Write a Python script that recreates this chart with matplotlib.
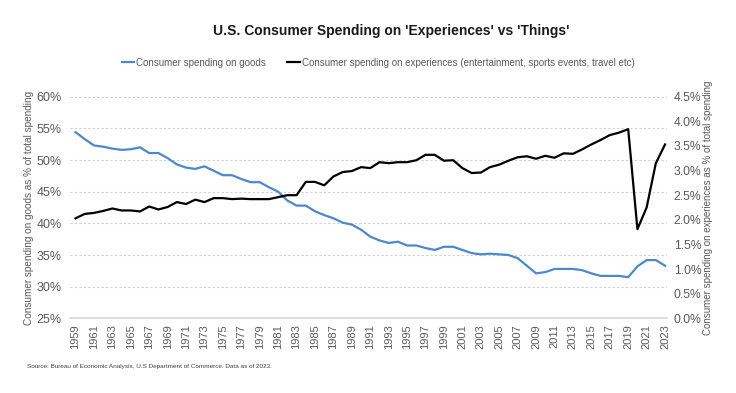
import numpy as np
import matplotlib
matplotlib.use("Agg")
import matplotlib.pyplot as plt
from matplotlib.ticker import FuncFormatter

plt.rcParams['font.family'] = ['Liberation Sans', 'DejaVu Sans']

# 年份
years = list(range(1959, 2024))

# 商品消费占比 (%)，左轴
goods = [54.4, 53.3, 52.3, 52.1, 51.8, 51.6, 51.7, 52.0, 51.1, 51.1,
         50.3, 49.3, 48.8, 48.6, 49.0, 48.3, 47.6, 47.6, 47.0, 46.5,
         46.5, 45.7, 45.0, 43.6, 42.8, 42.8, 41.9, 41.3, 40.8, 40.1,
         39.8, 39.0, 37.9, 37.3, 36.9, 37.1, 36.5, 36.5, 36.1, 35.8,
         36.3, 36.3, 35.8, 35.3, 35.1, 35.2, 35.1, 35.0, 34.5, 33.3,
         32.1, 32.3, 32.8, 32.8, 32.8, 32.6, 32.1, 31.7, 31.7, 31.7,
         31.5, 33.2, 34.2, 34.2, 33.3]

# 体验消费占比 (%)，右轴
experiences = [2.03, 2.12, 2.14, 2.18, 2.23, 2.19, 2.19, 2.17, 2.27, 2.21,
               2.26, 2.36, 2.32, 2.41, 2.36, 2.44, 2.44, 2.42, 2.43, 2.42,
               2.42, 2.42, 2.46, 2.50, 2.50, 2.77, 2.77, 2.70, 2.88, 2.97,
               2.99, 3.07, 3.05, 3.17, 3.15, 3.17, 3.17, 3.21, 3.32, 3.32,
               3.20, 3.21, 3.05, 2.95, 2.96, 3.07, 3.12, 3.20, 3.27, 3.29,
               3.24, 3.30, 3.26, 3.35, 3.34, 3.43, 3.53, 3.62, 3.72, 3.77,
               3.84, 1.81, 2.25, 3.15, 3.53]

tick_years = years[::2]
left_ticks = [25, 30, 35, 40, 45, 50, 55, 60]
right_ticks = [0.0, 0.5, 1.0, 1.5, 2.0, 2.5, 3.0, 3.5, 4.0, 4.5]

blue = '#4a89d0'
gray_txt = '#595959'

fig = plt.figure(figsize=(7.36, 3.93), dpi=100)
ax = fig.add_axes([0.0951, 0.190, 0.811, 0.564])
ax2 = ax.twinx()

l1, = ax.plot(years, goods, color=blue, lw=1.6, label='Consumer spending on goods')
l2, = ax2.plot(years, experiences, color='black', lw=1.6,
               label='Consumer spending on experiences (entertainment, sports events, travel etc)')

ax.set_xlim(1958.4, 2023.2)
ax.set_ylim(25, 60)
ax2.set_ylim(0, 4.5)
ax.set_yticks(left_ticks)
ax2.set_yticks(right_ticks)
ax.yaxis.set_major_formatter(FuncFormatter(lambda v, p: f'{v:.0f}%'))
ax2.yaxis.set_major_formatter(FuncFormatter(lambda v, p: f'{v:.1f}%'))
ax.set_xticks(tick_years)
ax.set_xticklabels([str(y) for y in tick_years], rotation=90)

# 网格线
ax.grid(axis='y', color='#cfcfcf', linestyle=(0, (2, 2)), lw=0.8)
ax.set_axisbelow(True)

for a in (ax, ax2):
    for s in ['top', 'left', 'right', 'bottom']:
        a.spines[s].set_visible(False)
    a.tick_params(length=0, colors=gray_txt, labelsize=9)
ax.spines['bottom'].set_visible(True)
ax.spines['bottom'].set_color('#d9d9d9')
ax.spines['bottom'].set_linewidth(1.2)
ax.tick_params(axis='x', labelsize=8, pad=4)
ax.tick_params(axis='y', pad=6)
ax2.tick_params(axis='y', pad=5, labelsize=8.7)

ax.set_ylabel('Consumer spending on goods as % of total spending',
              fontsize=7.2, color=gray_txt, labelpad=2)
ax2.set_ylabel('Consumer spending on experiences as % of total spending',
               fontsize=7, color=gray_txt, labelpad=1)

fig.text(0.531, 0.921, "U.S. Consumer Spending on 'Experiences' vs 'Things'",
         ha='center', va='center', fontsize=10, fontweight='bold', color='#1a1a1a')

fig.legend(handles=[l1, l2], loc='center', bbox_to_anchor=(0.514, 0.84), ncol=2,
           frameon=False, fontsize=7, handlelength=1.3, handletextpad=0.2,
           columnspacing=2.2, labelcolor=gray_txt)

fig.text(0.037, 0.068, 'Source: Bureau of Economic Analysis, U.S Department of Commerce. Data as of 2023.',
         fontsize=4.6, color='#404040', va='center')

fig.savefig('out.png', dpi=100)
